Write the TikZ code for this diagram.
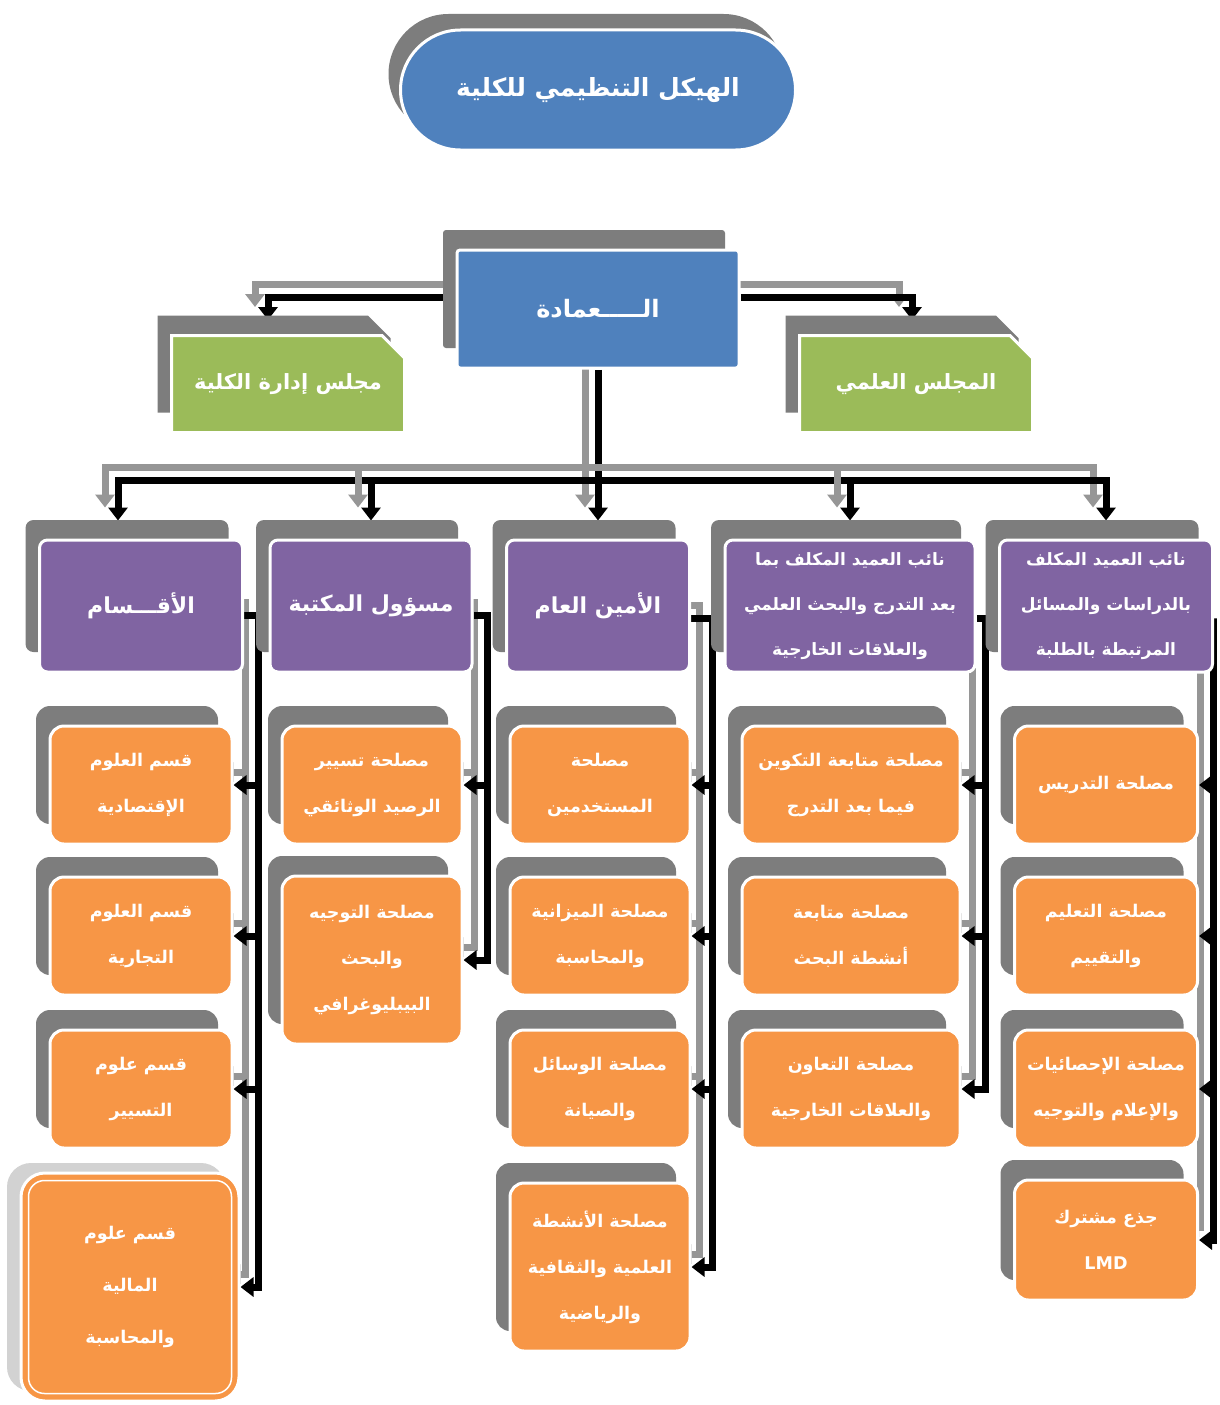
\documentclass[tikz,border=0pt]{standalone}
\usepackage{fontspec}
\newfontfamily\arabicfont[Script=Arabic]{DejaVu Sans}
\TeXXeTstate=1
\usetikzlibrary{shapes.misc}
\usetikzlibrary{shadows}
\usetikzlibrary{arrows.meta}
\newcommand\artxt[1]{\beginR #1\endR}
\definecolor{boxblue}{RGB}{79,129,189}
\definecolor{boxgreen}{RGB}{155,187,89}
\definecolor{boxpurple}{RGB}{128,100,162}
\definecolor{boxorange}{RGB}{247,150,70}
\definecolor{shadowgray}{RGB}{125,125,125}
\definecolor{linkgray}{RGB}{150,150,150}
\pgfdeclarelayer{bg}
\pgfsetlayers{bg,main}
\tikzset{
  boxbase/.style={draw=white, line width=3pt, inner sep=0pt, text=white, align=center},
  card/.style={boxbase, general shadow={fill=shadowgray, shadow xshift=-14pt, shadow yshift=20pt}},
  council/.style={card, fill=boxgreen, shape=chamfered rectangle, chamfered rectangle corners=north east,
    chamfered rectangle xsep=12pt, chamfered rectangle ysep=12pt, minimum width=233pt, minimum height=97pt,
    font=\arabicfont\bfseries\fontsize{21pt}{26pt}\selectfont},
  deputy/.style={card, fill=boxpurple, rounded corners=8pt, minimum height=132pt,
    font=\arabicfont\bfseries\fontsize{17pt}{45pt}\selectfont},
  bigtext/.style={font=\arabicfont\bfseries\fontsize{22pt}{26pt}\selectfont},
  service/.style={card, fill=boxorange, rounded corners=14pt, minimum height=118pt,
    font=\arabicfont\bfseries\fontsize{17.5pt}{46pt}\selectfont},
  link/.style={draw=black, line width=7pt,
    preaction={draw=linkgray, line width=7pt, transform canvas={shift={(-13pt,13pt)}}}},
  tip/.style={-{Triangle[length=13pt,width=19pt]}}
}
\begin{document}
\begin{tikzpicture}[x=1pt,y=-1pt]

% Title
\node[boxbase, shape=rounded rectangle, fill=boxblue, minimum width=395pt, minimum height=120pt,
  font=\arabicfont\bfseries\fontsize{25pt}{32pt}\selectfont,
  general shadow={fill=shadowgray, shadow xshift=-12pt, shadow yshift=16pt}] (title) at (598,90)
  {\artxt{الهيكل التنظيمي للكلية}};

% Dean and councils
\node[card, fill=boxblue, rounded corners=3pt, minimum width=282pt, minimum height=118pt,
  font=\arabicfont\bfseries\fontsize{24pt}{28pt}\selectfont] (dean) at (598,309) {\artxt{الـــــعمادة}};
\node[council] (cadmin) at (288,384) {\artxt{مجلس إدارة الكلية}};
\node[council] (csci) at (916,384) {\artxt{المجلس العلمي}};

% Second level
\node[deputy, minimum width=213pt] (vstud) at (1106,606)
  {\artxt{نائب العميد المكلف}\\\artxt{بالدراسات والمسائل}\\\artxt{المرتبطة بالطلبة}};
\node[deputy, minimum width=250pt] (vpost) at (850,606)
  {\artxt{نائب العميد المكلف بما}\\\artxt{بعد التدرج والبحث العلمي}\\\artxt{والعلاقات الخارجية}};
\node[deputy, bigtext, minimum width=183pt] (secgen) at (598,606) {\artxt{الأمين العام}};
\node[deputy, bigtext, minimum width=202pt] (libr) at (371,606) {\artxt{مسؤول المكتبة}};
\node[deputy, bigtext, minimum width=203pt] (depts) at (141,606) {\artxt{الأقـــسام}};

% Services: students
\node[service, minimum width=183pt] (st1) at (1106,785) {\artxt{مصلحة التدريس}};
\node[service, minimum width=183pt] (st2) at (1106,936) {\artxt{مصلحة التعليم}\\\artxt{والتقييم}};
\node[service, minimum width=183pt] (st3) at (1106,1089) {\artxt{مصلحة الإحصائيات}\\\artxt{والإعلام والتوجيه}};
\node[service, minimum width=183pt, minimum height=120pt] (st4) at (1106,1240) {\artxt{جذع مشترك}\\LMD};

% Services: post graduation
\node[service, minimum width=218pt] (pg1) at (851,785) {\artxt{مصلحة متابعة التكوين}\\\artxt{فيما بعد التدرج}};
\node[service, minimum width=218pt] (pg2) at (851,936) {\artxt{مصلحة متابعة}\\\artxt{أنشطة البحث}};
\node[service, minimum width=218pt] (pg3) at (851,1089) {\artxt{مصلحة التعاون}\\\artxt{والعلاقات الخارجية}};

% Services: general secretary
\node[service, minimum width=180pt] (sg1) at (600,785) {\artxt{مصلحة}\\\artxt{المستخدمين}};
\node[service, minimum width=180pt] (sg2) at (600,936) {\artxt{مصلحة الميزانية}\\\artxt{والمحاسبة}};
\node[service, minimum width=180pt] (sg3) at (600,1089) {\artxt{مصلحة الوسائل}\\\artxt{والصيانة}};
\node[service, minimum width=180pt, minimum height=168pt] (sg4) at (600,1267)
  {\artxt{مصلحة الأنشطة}\\\artxt{العلمية والثقافية}\\\artxt{والرياضية}};

% Services: library
\node[service, minimum width=180pt] (lb1) at (372,785) {\artxt{مصلحة تسيير}\\\artxt{الرصيد الوثائقي}};
\node[service, minimum width=180pt, minimum height=168pt] (lb2) at (372,960)
  {\artxt{مصلحة التوجيه}\\\artxt{والبحث}\\\artxt{البيبليوغرافي}};

% Departments
\node[service, minimum width=182pt] (dp1) at (141,785) {\artxt{قسم العلوم}\\\artxt{الإقتصادية}};
\node[service, minimum width=182pt] (dp2) at (141,936) {\artxt{قسم العلوم}\\\artxt{التجارية}};
\node[service, minimum width=182pt] (dp3) at (141,1089) {\artxt{قسم علوم}\\\artxt{التسيير}};
\node[boxbase, fill=boxorange, rounded corners=24pt, minimum width=218pt, minimum height=228pt,
  font=\arabicfont\bfseries\fontsize{17.5pt}{52pt}\selectfont,
  general shadow={fill=gray!35, shadow xshift=-14pt, shadow yshift=10pt}] (dp4) at (130,1287)
  {\artxt{قسم علوم}\\\artxt{المالية}\\\artxt{والمحاسبة}};
\draw[white, line width=1.5pt, rounded corners=16pt] ([shift={(9pt,-9pt)}]dp4.north west) rectangle ([shift={(-9pt,9pt)}]dp4.south east);

\begin{pgfonlayer}{bg}
\path[fill=white] (0,0) rectangle (1219,1405);
%Straight Lines: dean to councils
\draw[link,tip] ([yshift=12pt]dean.west) -| ([xshift=-20pt,yshift=14pt]cadmin.north);
\draw[link,tip] ([yshift=12pt]dean.east) -| ([xshift=-4pt,yshift=14pt]csci.north);
%Straight Lines: dean to second level
\coordinate (bus) at (598,480);
\draw[link,tip] (dean.south) -- ([yshift=18pt]secgen.north);
\draw[link,tip] (bus) -| ([xshift=-23pt,yshift=18pt]depts.north);
\draw[link,tip] (bus) -| ([yshift=18pt]vstud.north);
\draw[link,tip] (libr.north |- bus) -- ([yshift=18pt]libr.north);
\draw[link,tip] (vpost.north |- bus) -- ([yshift=18pt]vpost.north);
%Straight Lines: second level to services
\coordinate (vdp) at (258,615);
\coordinate (vlb) at (487,615);
\coordinate (vsg) at (712,618);
\coordinate (vpg) at (985,618);
\coordinate (vst) at (1213,618);
\draw[link,tip] (depts.east |- vdp) -- (vdp) |- (dp4.east);
\draw[link,tip] (libr.east |- vlb) -- (vlb) |- (lb2.east);
\draw[link,tip] (secgen.east |- vsg) -- (vsg) |- (sg4.east);
\draw[link,tip] (vpost.east |- vpg) -- (vpg) |- (pg3.east);
\draw[link,tip] (vstud.east |- vst) -- (vst) |- (st4.east);
\foreach \n in {dp1,dp2,dp3} \draw[link,tip] (vdp |- \n.east) -- (\n.east);
\draw[link,tip] (vlb |- lb1.east) -- (lb1.east);
\foreach \n in {sg1,sg2,sg3} \draw[link,tip] (vsg |- \n.east) -- (\n.east);
\foreach \n in {pg1,pg2} \draw[link,tip] (vpg |- \n.east) -- (\n.east);
\foreach \n in {st1,st2,st3} \draw[link,tip] (vst |- \n.east) -- (\n.east);
\end{pgfonlayer}

\useasboundingbox (0,0) rectangle (1219,1405);
\end{tikzpicture}
\end{document}
